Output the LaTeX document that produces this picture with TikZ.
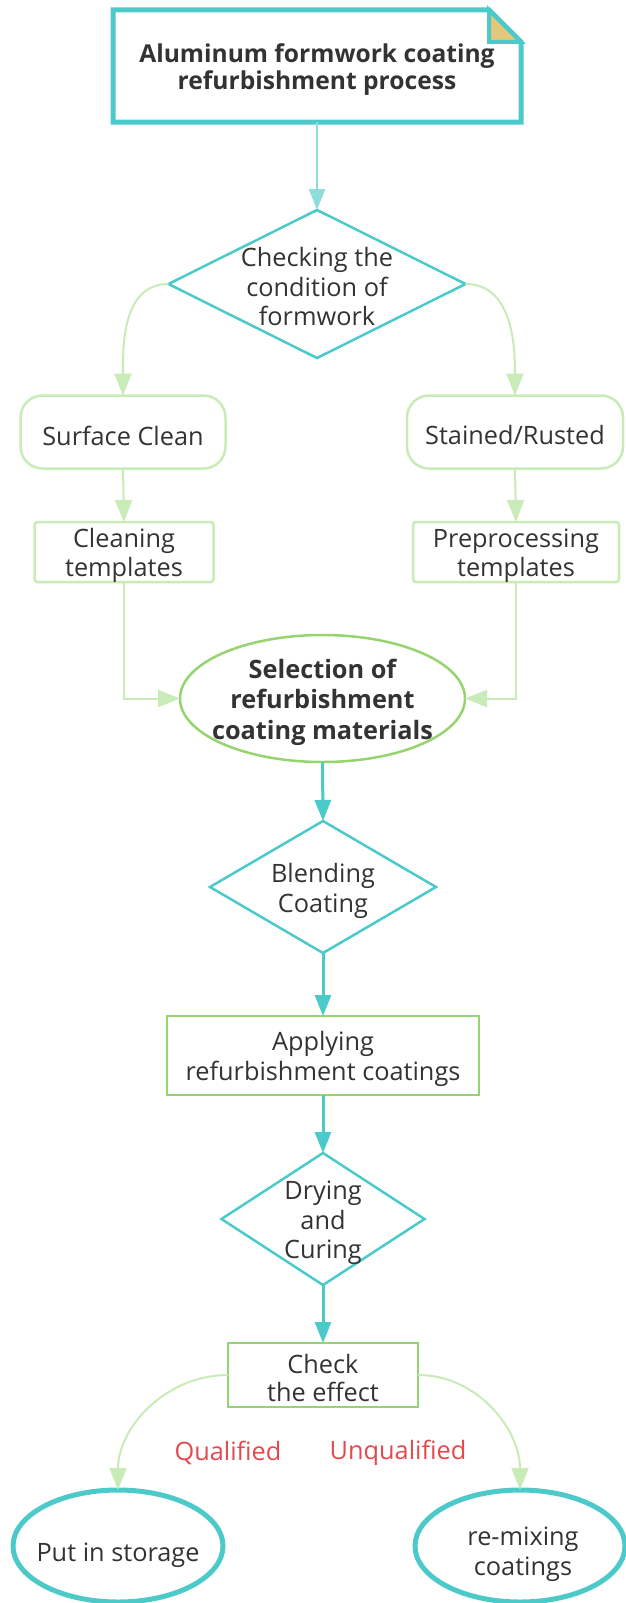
\documentclass[tikz,border=0pt]{standalone}
\usepackage{fontspec}
\setmainfont{Open Sans}
\usetikzlibrary{shapes.geometric,arrows.meta}
\definecolor{teal1}{HTML}{4CC9C9}
\definecolor{tealL}{HTML}{8EDCDC}
\definecolor{grn}{HTML}{95D46F}
\definecolor{grnL}{HTML}{C9EBB8}
\definecolor{gold}{HTML}{E3C77B}
\definecolor{txt}{HTML}{333333}
\definecolor{red1}{HTML}{E5484D}
\begin{document}
\begin{tikzpicture}[x=1pt,y=-1pt,
  base/.style={inner sep=0pt, outer sep=0pt, text=txt, align=center, font=\fontsize{25.3}{29.5}\selectfont},
  lift/.style={base, yshift=-3.5pt},
  boldtxt/.style={lift, font=\bfseries\fontsize{25.3}{30.5}\selectfont},
  dia/.style={base, shape=diamond, draw=teal1, line width=2.5pt},
  softbox/.style={base, draw=grnL, line width=2.5pt},
  greenbox/.style={base, draw=grn, line width=2.5pt},
  endell/.style={base, shape=ellipse, draw=teal1, line width=5pt},
  tarrow/.style={draw=teal1, line width=3pt, -{Triangle[length=21pt,width=16pt]}},
  tarrowL/.style={draw=tealL, line width=2.5pt, -{Triangle[length=21pt,width=16pt]}},
  garrow/.style={draw=grnL, line width=2pt, -{Triangle[length=22pt,width=17pt]}},
  lbl/.style={base, text=red1}
]
\useasboundingbox (0,0) rectangle (626,1603);

% title
\node[base, minimum width=408pt, minimum height=112pt, label={[lift, font=\bfseries\fontsize{24.6}{27.5}\selectfont]center:Aluminum formwork coating\\refurbishment process}] (title) at (317,66) {};
\draw[teal1, line width=5pt, line join=miter] (title.south west) -- (title.north west) -- ([xshift=-32pt]title.north east) -- ([yshift=-32pt]title.north east) -- (title.south east) -- cycle;
\filldraw[draw=teal1, fill=gold, line width=4pt, line join=miter] ([xshift=-32pt]title.north east) -- ([xshift=-32pt,yshift=-32pt]title.north east) -- ([yshift=-32pt]title.north east) -- cycle;

% check condition
\node[dia, minimum width=297pt, minimum height=148pt] (d1) at (317,284) {};
\node[base] (d1t) at (317,287) {Checking the\\condition of\\formwork};

\node[softbox, rounded corners=22pt, minimum width=205pt, minimum height=73pt, label={[lift]center:Surface Clean}] (sc) at (123,432) {};
\node[softbox, rounded corners=22pt, minimum width=216pt, minimum height=73pt, label={[lift]center:Stained/Rusted}] (sr) at (515,432) {};

\node[softbox, rounded corners=3pt, minimum width=179pt, minimum height=60pt, label={[lift]center:Cleaning\\templates}] (ct) at (124,552) {};
\node[softbox, rounded corners=3pt, minimum width=206pt, minimum height=60pt, label={[lift]center:Preprocessing\\templates}] (pt) at (516,552) {};

\node[base, shape=ellipse, draw=grn, line width=2.5pt, minimum width=285pt, minimum height=127pt, label={[boldtxt]center:Selection of\\refurbishment\\coating materials}] (sel) at (322.5,698.5) {};

\node[dia, minimum width=226pt, minimum height=132pt] (blend) at (323,887) {};
\node[base] (blendt) at (323,891) {Blending\\Coating};

\node[greenbox, minimum width=312pt, minimum height=79pt, label={[lift]center:Applying\\refurbishment coatings}] (apply) at (323,1055.5) {};

\node[dia, minimum width=203pt, minimum height=132pt] (dry) at (323,1219) {};
\node[base] (dryt) at (323,1223) {Drying\\and\\Curing};

\node[greenbox, minimum width=190pt, minimum height=64pt, label={[lift, yshift=1pt, font=\fontsize{25.3}{28}\selectfont]center:Check\\the effect}] (check) at (323,1375) {};

\node[lbl] (q) at (228,1453) {Qualified};
\node[lbl] (uq) at (398,1453) {Unqualified};

\node[endell, minimum width=210pt, minimum height=112pt] (store) at (118,1546) {};
\node[base] (storet) at (118,1555) {Put in storage};
\node[endell, minimum width=210pt, minimum height=112pt] (remix) at (520,1546) {};
\node[base] (remixt) at (523,1554) {re-mixing\\coatings};

% connectors
\draw[tarrowL] (title.south) -- (d1.north);
\draw[garrow] (d1.west) to[out=180,in=90] (sc.north);
\draw[garrow] (d1.east) to[out=0,in=90] (sr.north);
\draw[garrow] (sc.south) -- (ct.north);
\draw[garrow] (sr.south) -- (pt.north);
\draw[garrow] (ct.south) |- (sel.west);
\draw[garrow] (pt.south) |- (sel.east);
\draw[tarrow] (sel.south) -- (blend.north);
\draw[tarrow] (blend.south) -- (apply.north);
\draw[tarrow] (apply.south) -- (dry.north);
\draw[tarrow] (dry.south) -- (check.north);
\draw[garrow] (check.west) to[out=180,in=90] (store.north);
\draw[garrow] (check.east) to[out=0,in=90] (remix.north);
\end{tikzpicture}
\end{document}
